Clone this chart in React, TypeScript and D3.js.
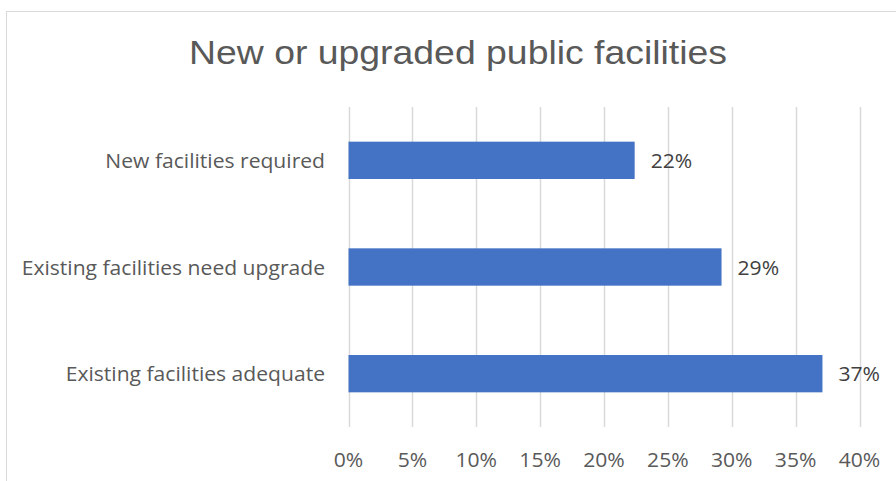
import React from "react";
import * as d3 from "d3";

const categories = ["New facilities required", "Existing facilities need upgrade", "Existing facilities adequate"];
const values = [22.4, 29.2, 37.1];
const valueLabels = ["22%", "29%", "37%"];
const ticks = [0, 5, 10, 15, 20, 25, 30, 35, 40];
const title = "New or upgraded public facilities";

const W = 896;
const H = 481;

const labelFont = "'Open Sans', Lato, sans-serif";
const fs = 20;
const sx = 1.055;

function Label({ x, y, anchor, fill, children }: { x: number; y: number; anchor: string; fill: string; children: React.ReactNode }) {
  return (
    <g transform={`translate(${x},${y}) scale(${sx},1)`}>
      <text x={0} y={0} textAnchor={anchor as any} fontFamily={labelFont} fontSize={fs} fill={fill}>
        {children}
      </text>
    </g>
  );
}

export default function App() {
  const x = d3.scaleLinear().domain([0, 40]).range([348.5, 859.5]);
  const y = d3.scaleBand().domain(categories).range([107, 427]).paddingInner(0.65).paddingOuter(0.325);
  return (
    <svg width={W} height={H} style={{ position: "absolute", left: 0, top: 0, background: "#fff" }}>
      <rect x={6.5} y={11.5} width={W + 20} height={H + 20} fill="#fff" stroke="#d9d9d9" strokeWidth={1} />
      <g transform="translate(458,63.5) scale(1.15,1)">
        <text x={0} y={0} textAnchor="middle" fontFamily="'Liberation Sans', Arial, sans-serif" fontSize={32.5} fill="#595959">
          {title}
        </text>
      </g>
      {ticks.map((t) => (
        <g key={t}>
          <line x1={Math.round(x(t)) + 0.5} x2={Math.round(x(t)) + 0.5} y1={107} y2={427} stroke="#d9d9d9" strokeWidth={1.5} />
          <Label x={x(t)} y={466.5} anchor="middle" fill="#595959">
            {t + "%"}
          </Label>
        </g>
      ))}
      {categories.map((c, i) => (
        <g key={c}>
          <rect x={x(0)} y={y(c)!} width={x(values[i]) - x(0)} height={y.bandwidth()} fill="#4472c4" />
          <Label x={325} y={y(c)! + y.bandwidth() / 2 + 7.5} anchor="end" fill="#595959">
            {c}
          </Label>
          <Label x={x(values[i]) + 16} y={y(c)! + y.bandwidth() / 2 + 7.5} anchor="start" fill="#404040">
            {valueLabels[i]}
          </Label>
        </g>
      ))}
    </svg>
  );
}
